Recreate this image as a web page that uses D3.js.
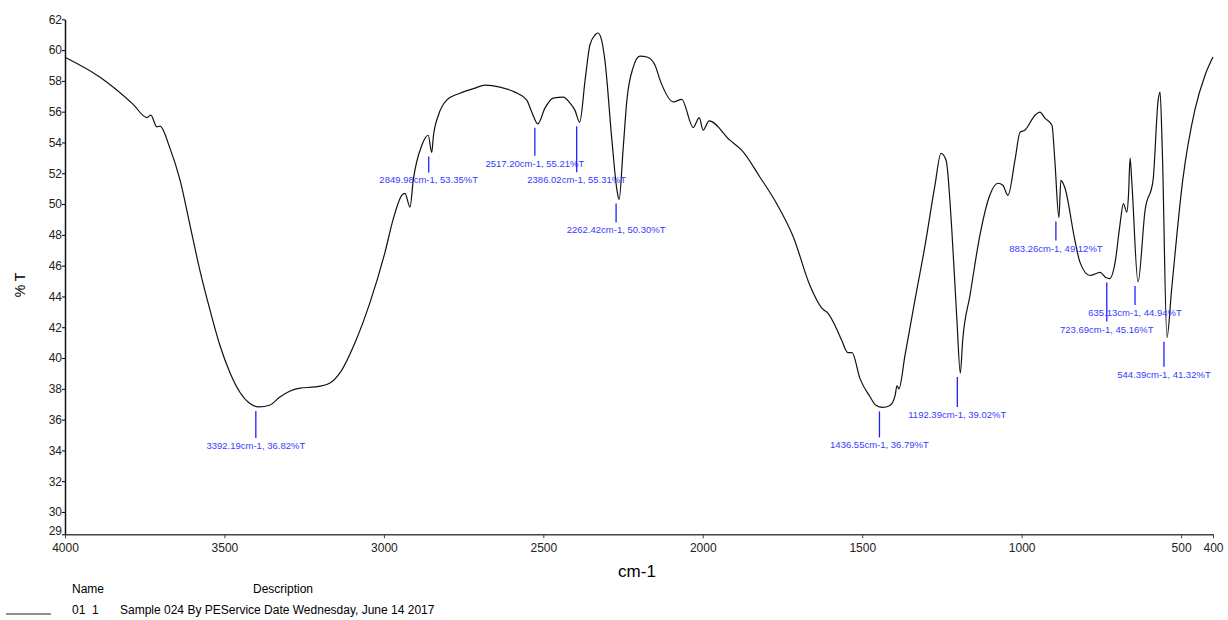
<!DOCTYPE html>
<html>
<head>
<meta charset="utf-8">
<script src="https://cdn.jsdelivr.net/npm/d3@7"></script>
<style>
  body { margin: 0; background: #fff; }
  svg text { font-family: "Liberation Sans", Arial, sans-serif; }
</style>
</head>
<body>
<div id="chart"></div>
<script>
////////////////////////////////////////////////////////////////////////
// Data (wavenumber cm-1, %T)

let wavenumbers = [4000, 3890, 3787, 3743, 3731, 3712, 3702, 3671, 3639, 3608,
  3577, 3545, 3514, 3483, 3451, 3420, 3392.19, 3357, 3326, 3294,
  3263, 3216, 3169, 3138, 3091, 3044, 2997, 2971, 2944, 2934,
  2918, 2908, 2881, 2861, 2849.98, 2845, 2829, 2803, 2761, 2714,
  2683, 2636, 2589, 2552, 2536, 2517.20, 2495, 2469, 2438, 2416,
  2401, 2386.02, 2369, 2354, 2338, 2329, 2319, 2307, 2285, 2269,
  2262.42, 2250, 2238, 2219, 2197, 2175, 2150, 2134, 2092, 2066,
  2030, 2011, 1999, 1980, 1915, 1878, 1821, 1769, 1716, 1664,
  1626, 1607, 1585, 1564, 1545, 1532, 1507, 1476, 1457, 1436.55,
  1413, 1397, 1391, 1385, 1366, 1335, 1303, 1272, 1253, 1237,
  1219, 1203, 1192.39, 1185, 1162, 1131, 1100, 1074, 1059, 1043,
  1021, 1005, 990, 958, 943, 927, 905, 896, 883.26, 877,
  865, 833, 817, 786, 754, 736, 723.69, 707, 692, 681,
  670, 665, 660, 654, 635.13, 613, 588, 572, 566, 559,
  544.39, 530, 495, 457, 425, 400];

let transmittance = [59.53, 58.23, 56.49, 55.62, 55.77, 55.01, 55.06, 53.63, 51.54, 48.62,
  45.69, 43.09, 40.81, 39.06, 37.76, 37.04, 36.82, 36.95, 37.47, 37.86,
  38.05, 38.12, 38.38, 39.03, 40.98, 43.58, 46.83, 49.0, 50.57, 50.7,
  49.8, 51.54, 53.82, 54.47, 53.35, 54.36, 55.77, 56.75, 57.2, 57.53,
  57.73, 57.6, 57.27, 56.75, 55.97, 55.21, 56.23, 56.88, 56.94, 56.55,
  56.1, 55.31, 58.05, 60.33, 60.98, 61.11, 60.78, 59.35, 54.15, 50.89,
  50.30, 53.5, 56.75, 58.83, 59.61, 59.55, 59.03, 58.05, 56.64, 56.8,
  54.97, 55.62, 54.8, 55.4, 54.15, 53.5, 51.76, 50.05, 47.86, 44.71,
  43.22, 42.9, 42.1, 41.13, 40.35, 40.35, 38.66, 37.5, 36.93, 36.79,
  36.92, 37.56, 38.2, 38.0, 40.15, 43.73, 47.31, 51.21, 53.3, 52.85,
  48.3, 42.44, 39.02, 41.14, 44.07, 47.97, 50.57, 51.35, 51.22, 50.57,
  52.85, 54.67, 54.8, 55.77, 55.97, 55.58, 55.12, 52.85, 49.12, 51.54,
  51.09, 47.64, 46.21, 45.36, 45.56, 45.23, 45.16, 46.21, 48.62, 50.03,
  49.48, 50.57, 52.98, 51.22, 44.94, 49.6, 51.54, 56.75, 57.27, 53.5,
  41.32, 44.4, 51.54, 56.1, 58.37, 59.55];

// annotated peaks
let peakWavenumbers = [3392.19, 2849.98, 2517.20, 2386.02, 2262.42, 1436.55,
                       1192.39, 883.26, 723.69, 635.13, 544.39];
let peakValues = [36.82, 53.35, 55.21, 55.31, 50.30, 36.79,
                  39.02, 49.12, 45.16, 44.94, 41.32];
// how far below the minimum each annotation hangs (px, layout only)
let peakDrops = [27, 16, 28, 46, 19, 26, 30, 19, 39, 19, 25];

let xTicks = [4000, 3500, 3000, 2500, 2000, 1500, 1000, 500, 400];
let yTicks = [30, 32, 34, 36, 38, 40, 42, 44, 46, 48, 50, 52, 54, 56, 58, 60, 62];
let yBottom = 28.55;

let legendName = "01  1";
let legendDescription = "Sample 024 By PEService Date Wednesday, June 14 2017";

////////////////////////////////////////////////////////////////////////
// Scales and svg

let svgWidth = 1228, svgHeight = 620;
let plotLeft = 65, plotRight = 1213, plotTop = 19.3, plotBottom = 534.3;

let xScale = d3.scaleLinear().domain([4000, 400]).range([plotLeft, plotRight]);
let yScale = d3.scaleLinear().domain([yBottom, 62]).range([plotBottom, plotTop]);

let svg = d3.select("#chart").append("svg")
    .attr("width", svgWidth)
    .attr("height", svgHeight);

// axes
let xAxis = svg.append("g")
    .attr("transform", "translate(0," + plotBottom + ")")
    .call(d3.axisBottom(xScale)
      .tickValues(xTicks)
      .tickFormat(d3.format("d"))
      .tickSize(4).tickSizeOuter(0));
xAxis.select(".domain").attr("stroke", "#444").attr("stroke-width", 1.5);
xAxis.selectAll("line").attr("stroke", "#444");
xAxis.selectAll("text")
    .attr("font-size", 12)
    .attr("fill", "#222")
    .attr("dy", "0.9em");

let yAxis = svg.append("g")
    .attr("transform", "translate(" + plotLeft + ",0)")
    .call(d3.axisLeft(yScale)
      .tickValues(yTicks.concat([yBottom]))
      .tickFormat(function(d) { return d === yBottom ? "29" : d; })
      .tickSize(3).tickSizeOuter(0));
yAxis.select(".domain").attr("stroke", "#111").attr("stroke-width", 1.5);
yAxis.selectAll("text")
    .attr("font-size", 12)
    .attr("fill", "#222")
    .attr("x", -3);
yAxis.selectAll(".tick")
    .filter(function(d) { return d === yBottom; })
    .select("text").attr("dy", "0.05em");

// axis titles
svg.append("text")
    .attr("x", 637).attr("y", 577)
    .attr("text-anchor", "middle")
    .attr("font-size", 17)
    .text("cm-1");

svg.append("text")
    .attr("transform", "translate(25,285) rotate(-90)")
    .attr("text-anchor", "middle")
    .attr("font-size", 14)
    .text("% T");

////////////////////////////////////////////////////////////////////////
// Spectrum line

let spectrum = wavenumbers.map(function(w, i) { return { wn: w, t: transmittance[i] }; });

svg.append("path")
    .datum(spectrum)
    .attr("fill", "none")
    .attr("stroke", "#111")
    .attr("stroke-width", 1.2)
    .attr("d", d3.line()
      .x(function(d) { return xScale(d.wn); })
      .y(function(d) { return yScale(d.t); })
      .curve(d3.curveMonotoneX));

////////////////////////////////////////////////////////////////////////
// Peak annotations

let peaks = peakWavenumbers.map(function(w, i) {
  return { wn: w, t: peakValues[i], drop: peakDrops[i] };
});

let peakG = svg.append("g")
    .selectAll("g")
    .data(peaks)
    .enter()
    .append("g")
    .attr("transform", function(d) {
      return "translate(" + (xScale(d.wn) - 3) + "," + yScale(d.t) + ")";
    });

peakG.append("line")
    .attr("x1", 0).attr("x2", 0)
    .attr("y1", 4)
    .attr("y2", function(d) { return 4 + d.drop; })
    .attr("stroke", "#2020ff")
    .attr("stroke-width", 1.3);

peakG.append("text")
    .attr("x", 0)
    .attr("y", function(d) { return 4 + d.drop + 11; })
    .attr("text-anchor", "middle")
    .attr("font-size", 9.5)
    .attr("fill", "#3a3aff")
    .text(function(d) { return d.wn.toFixed(2) + "cm-1, " + d.t.toFixed(2) + "%T"; });

////////////////////////////////////////////////////////////////////////
// Legend

svg.append("text").attr("x", 72).attr("y", 593).attr("font-size", 12).text("Name");
svg.append("text").attr("x", 253).attr("y", 593).attr("font-size", 12).text("Description");
svg.append("line")
    .attr("x1", 6).attr("x2", 51)
    .attr("y1", 614).attr("y2", 614)
    .attr("stroke", "#222").attr("stroke-width", 1.2);
svg.append("text").attr("x", 72).attr("y", 614).attr("font-size", 12).attr("xml:space", "preserve").text(legendName);
svg.append("text").attr("x", 120).attr("y", 614).attr("font-size", 12).text(legendDescription);
</script>
</body>
</html>
